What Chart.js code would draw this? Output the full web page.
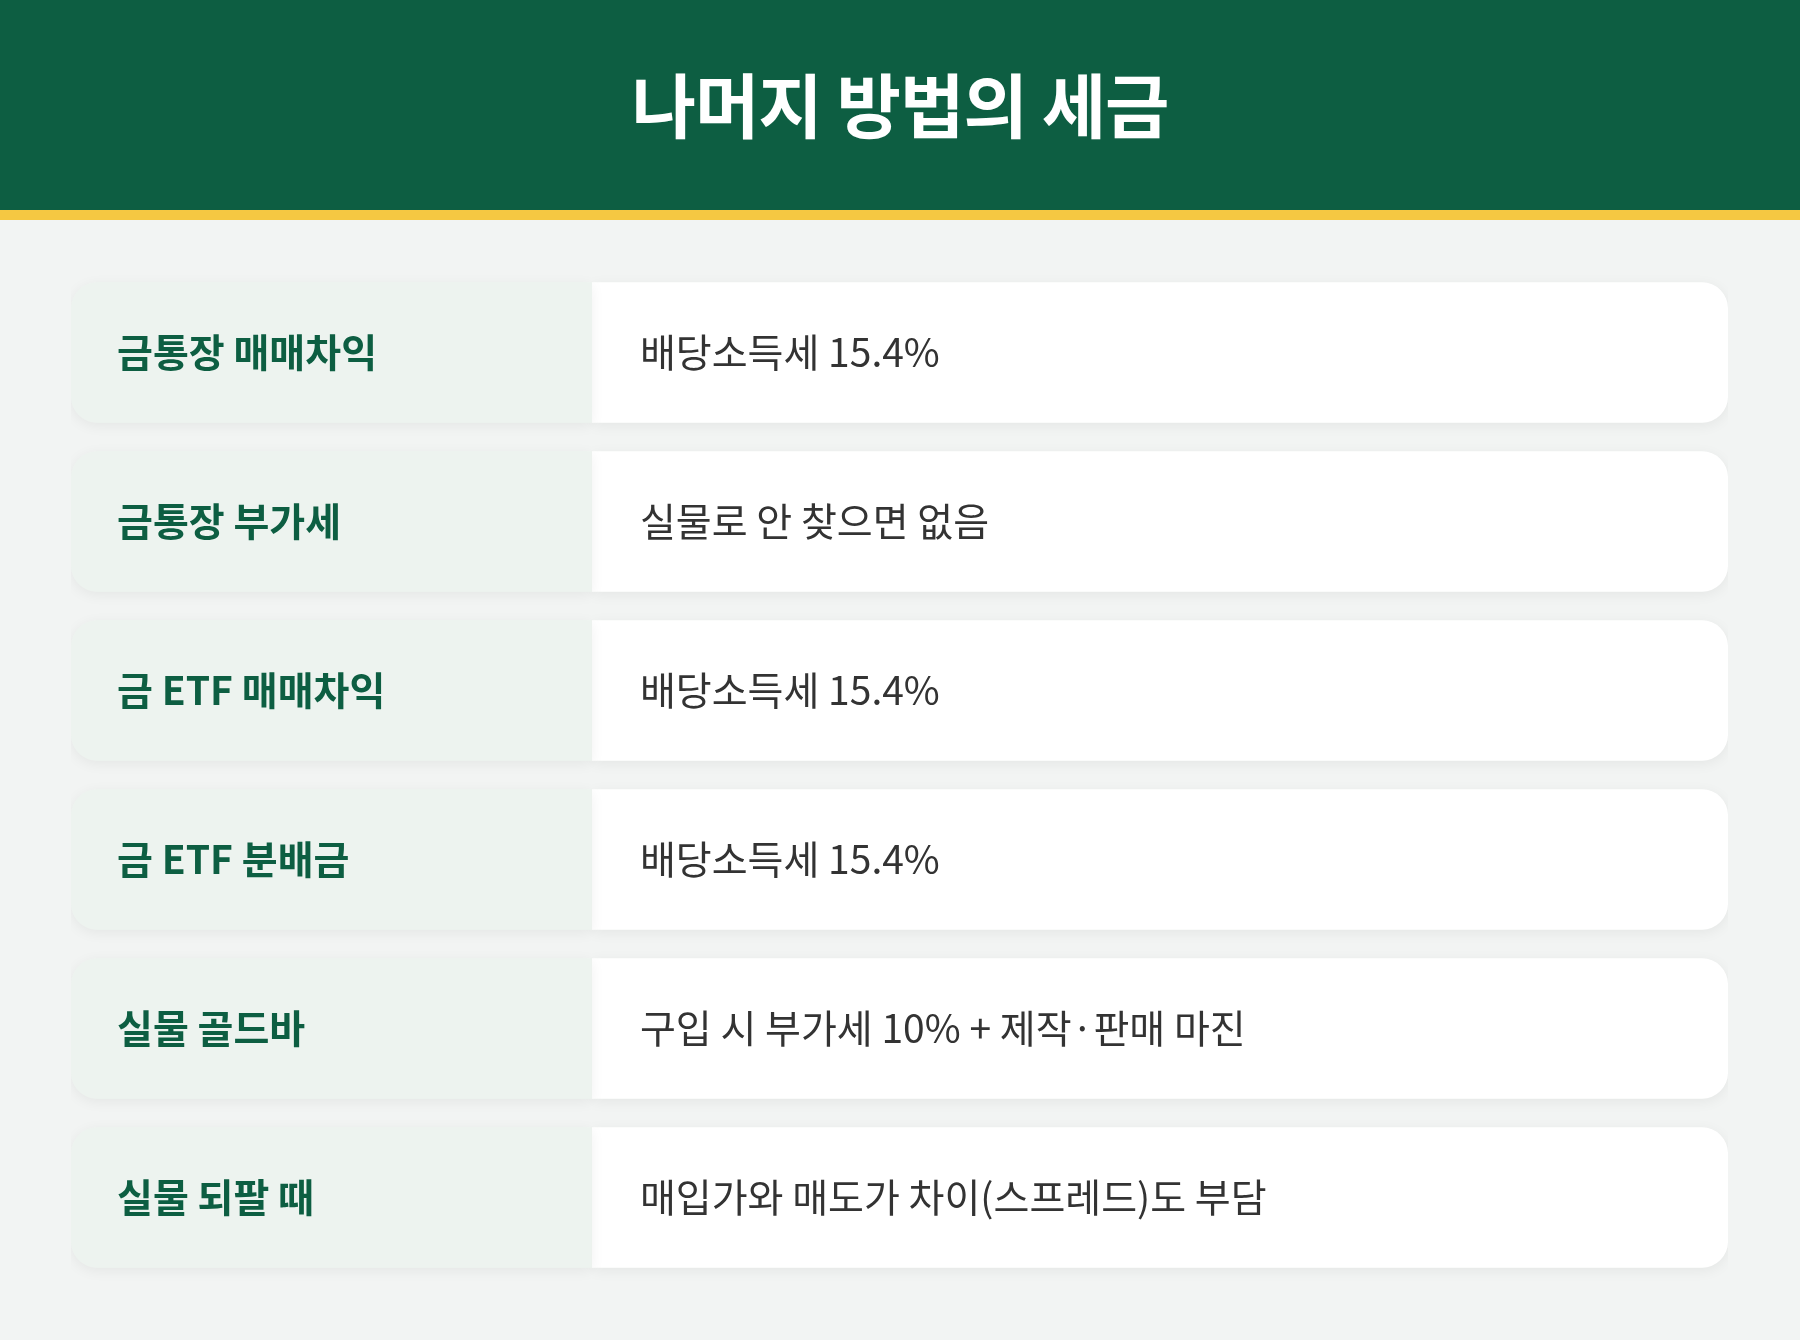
<!DOCTYPE html>
<html><head><meta charset="utf-8">
<script src="https://cdn.jsdelivr.net/npm/chart.js@4"></script>
<style>
body{margin:0;width:1800px;height:1340px;background:#f2f4f3;font-family:"Noto Sans CJK KR",sans-serif;overflow:hidden}
#hd{height:210px;background:#0d5e42;color:#fff;font-size:70px;font-weight:700;text-align:center;line-height:206px;border-bottom:10px solid #f5c842;letter-spacing:-1px}
#wrap{position:absolute;left:71px;top:268px;width:1657px;height:1014px}
</style></head><body>
<div id="hd">나머지 방법의 세금</div>
<div id="wrap"><canvas id="c"></canvas></div>
<script>
const methods = ["금통장 매매차익","금통장 부가세","금 ETF 매매차익","금 ETF 분배금","실물 골드바","실물 되팔 때"];
const taxes = ["배당소득세 15.4%","실물로 안 찾으면 없음","배당소득세 15.4%","배당소득세 15.4%","구입 시 부가세 10% + 제작·판매 마진","매입가와 매도가 차이(스프레드)도 부담"];
const split = 0.3144;

const textPlugin = {
  id: "cellText",
  beforeDatasetsDraw(chart) {
    const ctx = chart.ctx;
    ctx.save();
    ctx.shadowColor = "rgba(0,0,0,0.06)";
    ctx.shadowBlur = 14;
    ctx.shadowOffsetY = 3;
  },
  afterDatasetsDraw(chart) {
    const ctx = chart.ctx;
    ctx.restore();
    ctx.save();
    ctx.textBaseline = "middle";
    chart.getDatasetMeta(0).data.forEach((bar, i) => {
      ctx.font = "700 39px 'Noto Sans CJK KR'";
      ctx.fillStyle = "#0d5e42";
      ctx.fillText(methods[i], bar.base + 46, bar.y);
    });
    chart.getDatasetMeta(1).data.forEach((bar, i) => {
      ctx.font = "400 39px 'Noto Sans CJK KR'";
      ctx.fillStyle = "#333333";
      ctx.fillText(taxes[i], bar.base + 48, bar.y);
    });
    ctx.restore();
  }
};

new Chart(document.getElementById("c"), {
  type: "bar",
  data: {
    labels: methods,
    datasets: [
      { data: methods.map(() => [0, split]), backgroundColor: "#edf3ef",
        borderRadius: { topLeft: 26, bottomLeft: 26, topRight: 0, bottomRight: 0 }, borderSkipped: false },
      { data: methods.map(() => [split, 1]), backgroundColor: "#ffffff",
        borderRadius: { topLeft: 0, bottomLeft: 0, topRight: 26, bottomRight: 26 }, borderSkipped: false }
    ]
  },
  options: {
    indexAxis: "y", responsive: true, maintainAspectRatio: false, animation: false,
    layout: { padding: 0 },
    datasets: { bar: { grouped: false, categoryPercentage: 1, barPercentage: 0.83 } },
    scales: { x: { display: false, min: 0, max: 1 }, y: { display: false } },
    plugins: { legend: { display: false }, tooltip: { enabled: false } }
  },
  plugins: [textPlugin]
});
</script>
</body></html>
